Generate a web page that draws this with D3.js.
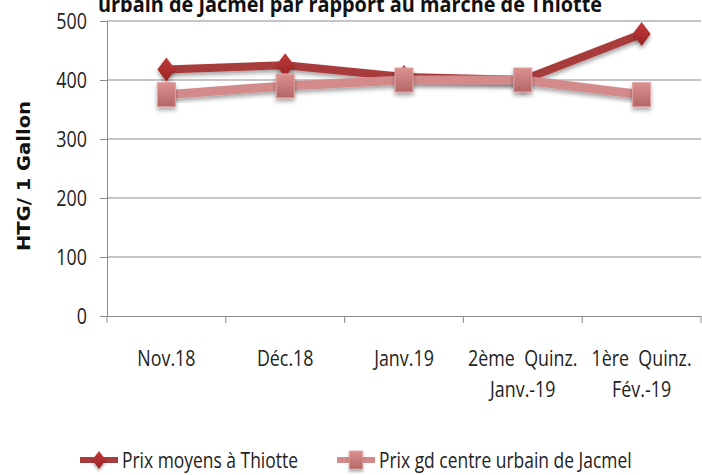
<!DOCTYPE html>
<html>
<head>
<meta charset="utf-8">
<script src="https://d3js.org/d3.v7.min.js"></script>
<style>
  body { margin: 0; background: #fff; }
  svg { display: block; font-family: "Open Sans", sans-serif; }
</style>
</head>
<body>
<div id="chart"></div>
<script>
const categories = [["Nov.18"], ["Déc.18"], ["Janv.19"], ["2ème  Quinz.", "Janv.-19"], ["1ère  Quinz.", "Fév.-19"]]
const thiotte = [418, 425, 405, 400, 478]
const jacmel = [375, 390, 400, 400, 375]
const yTicks = [0, 100, 200, 300, 400, 500]
const seriesNames = ["Prix moyens à Thiotte", "Prix gd centre urbain de Jacmel"]

const w = 702, h = 475
const plot = { left: 107, right: 701, top: 21, bottom: 316 }
const squeeze = 0.85

// narrow the text like the original Calibri-ish font
function narrow(sel, k) {
  sel.each(function () {
    const len = this.getComputedTextLength()
    d3.select(this).attr("textLength", len * k).attr("lengthAdjust", "spacingAndGlyphs")
  })
}

const svg = d3.select("#chart").append("svg").attr("width", w).attr("height", h)

const defs = svg.append("defs")
const gDia = defs.append("linearGradient").attr("id", "gDia").attr("x1", 0).attr("y1", 0).attr("x2", 0).attr("y2", 1)
gDia.append("stop").attr("offset", 0).attr("stop-color", "#c23a3a")
gDia.append("stop").attr("offset", 1).attr("stop-color", "#992424")
const gSq = defs.append("linearGradient").attr("id", "gSq").attr("x1", 0).attr("y1", 0).attr("x2", 0).attr("y2", 1)
gSq.append("stop").attr("offset", 0).attr("stop-color", "#dc9090")
gSq.append("stop").attr("offset", 1).attr("stop-color", "#b46666")
const shadow = defs.append("filter").attr("id", "shadow").attr("x", "-50%").attr("y", "-50%").attr("width", "200%").attr("height", "200%")
shadow.append("feDropShadow").attr("dx", 0).attr("dy", 3).attr("stdDeviation", 2).attr("flood-color", "#000").attr("flood-opacity", 0.35)

const x = d3.scaleBand().domain(d3.range(categories.length)).range([plot.left, plot.right])
const y = d3.scaleLinear().domain([0, 500]).range([plot.bottom, plot.top])

// title (cut off at the top, as in the original)
svg.append("text")
  .attr("x", 350).attr("y", 12)
  .attr("text-anchor", "middle")
  .attr("font-weight", "bold")
  .attr("font-size", 21)
  .attr("fill", "#111")
  .attr("textLength", 504).attr("lengthAdjust", "spacingAndGlyphs")
  .text("urbain de Jacmel par rapport au marché de Thiotte")

// gridlines
svg.append("g").selectAll("line").data(yTicks.filter(d => d > 0)).join("line")
  .attr("x1", plot.left).attr("x2", plot.right)
  .attr("y1", d => y(d)).attr("y2", d => y(d))
  .attr("stroke", "#8c8c8c").attr("stroke-width", 1)

// y axis
const yAxis = svg.append("g")
  .attr("transform", `translate(${plot.left},0)`)
  .call(d3.axisLeft(y).tickValues(yTicks).tickSize(7).tickPadding(13))
yAxis.select(".domain").attr("stroke", "#8c8c8c")
yAxis.selectAll(".tick line").attr("stroke", "#8c8c8c")
yAxis.selectAll(".tick text").attr("font-size", 21).attr("fill", "#222")
  .attr("font-family", "'Open Sans', sans-serif").attr("dy", "0.35em")
narrow(yAxis.selectAll(".tick text"), squeeze)

// x axis
const xAxis = svg.append("g")
  .attr("transform", `translate(0,${plot.bottom})`)
  .call(d3.axisBottom(x).tickSize(0).tickFormat(""))
xAxis.select(".domain").attr("stroke", "#8c8c8c")
svg.append("g").selectAll("line").data(d3.range(categories.length + 1)).join("line")
  .attr("x1", i => plot.left + i * x.step()).attr("x2", i => plot.left + i * x.step())
  .attr("y1", plot.bottom).attr("y2", plot.bottom + 7)
  .attr("stroke", "#8c8c8c")

const catLines = categories.flatMap((d, i) => d.map((t, k) => ({ i, k, t })))
const labels = svg.append("g").selectAll("text").data(catLines).join("text")
  .attr("x", d => x(d.i) + x.bandwidth() / 2)
  .attr("y", d => 366 + d.k * 31)
  .attr("text-anchor", "middle")
  .attr("font-size", 21)
  .attr("fill", "#222")
  .attr("xml:space", "preserve")
  .text(d => d.t)
narrow(labels, squeeze)

// y axis title
svg.append("text")
  .attr("transform", "translate(30,176) rotate(-90)")
  .attr("text-anchor", "middle")
  .attr("font-family", "'DejaVu Sans', sans-serif")
  .attr("font-weight", "bold")
  .attr("font-size", 17)
  .attr("fill", "#111")
  .attr("textLength", 150).attr("lengthAdjust", "spacingAndGlyphs")
  .text("HTG/ 1 Gallon")

const cx = i => x(i) + x.bandwidth() / 2
const line = d3.line().x((d, i) => cx(i)).y(d => y(d))

function diamond(g) {
  g.append("path").attr("d", "M0,-12 L9,0 L0,12 L-9,0 Z")
    .attr("fill", "url(#gDia)").attr("filter", "url(#shadow)")
}
function square(g) {
  g.append("rect").attr("x", -9).attr("y", -12).attr("width", 18).attr("height", 24)
    .attr("fill", "url(#gSq)").attr("stroke", "#e0a0a0").attr("stroke-width", 1)
    .attr("filter", "url(#shadow)")
}

// Thiotte series
svg.append("path").datum(thiotte).attr("d", line)
  .attr("fill", "none").attr("stroke", "#a83b3b").attr("stroke-width", 8)
  .attr("stroke-linejoin", "round").attr("filter", "url(#shadow)")
svg.append("g").selectAll("g").data(thiotte).join("g")
  .attr("transform", (d, i) => `translate(${cx(i)},${y(d)})`)
  .each(function () { diamond(d3.select(this)) })

// Jacmel series
svg.append("path").datum(jacmel).attr("d", line)
  .attr("fill", "none").attr("stroke", "#d38a8a").attr("stroke-width", 9)
  .attr("stroke-linejoin", "round").attr("filter", "url(#shadow)")
svg.append("g").selectAll("g").data(jacmel).join("g")
  .attr("transform", (d, i) => `translate(${cx(i)},${y(d)})`)
  .each(function () { square(d3.select(this)) })

// legend
const legend = svg.append("g")
const legItems = [
  { x: 80, color: "#a83b3b", mark: diamond, name: seriesNames[0] },
  { x: 337, color: "#d38a8a", mark: square, name: seriesNames[1] }
]
legItems.forEach(it => {
  const g = legend.append("g").attr("transform", `translate(${it.x},460)`)
  g.append("line").attr("x1", 0).attr("x2", 38).attr("stroke", it.color).attr("stroke-width", 6)
  const m = g.append("g").attr("transform", "translate(19,0) scale(0.75)")
  it.mark(m)
  const t = g.append("text").attr("x", 42).attr("y", 8).attr("font-size", 21).attr("fill", "#222").text(it.name)
  narrow(t, 0.83)
})
</script>
</body>
</html>
